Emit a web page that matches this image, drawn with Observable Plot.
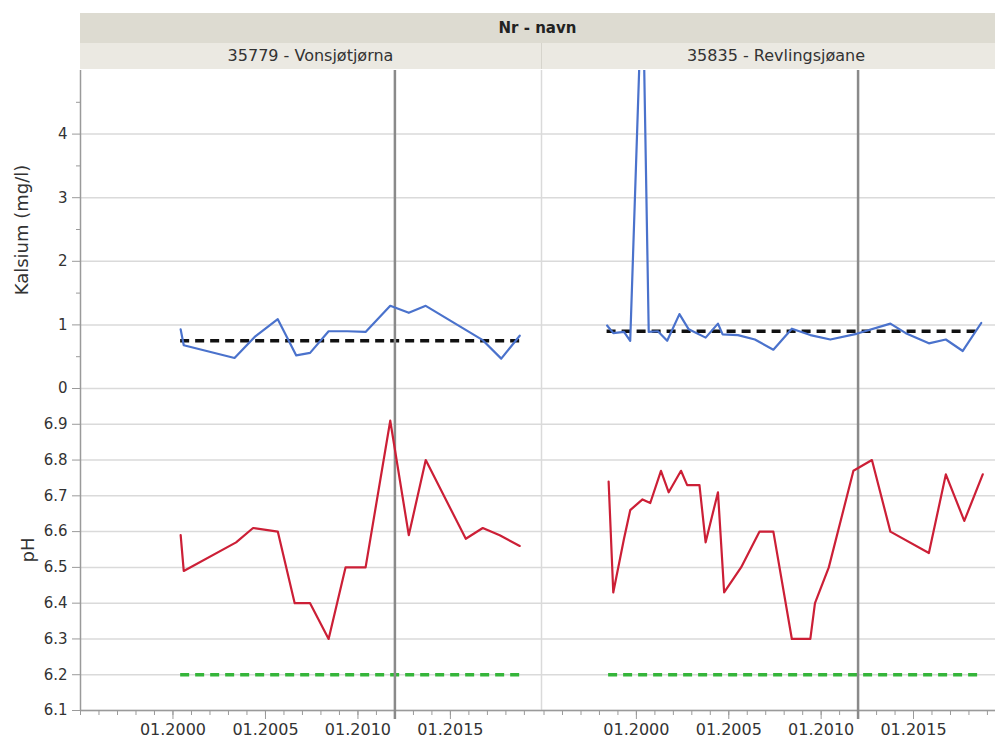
<!DOCTYPE html>
<html>
<head>
<meta charset="utf-8">
<script src="https://cdn.jsdelivr.net/npm/d3@7"></script>
<script src="https://cdn.jsdelivr.net/npm/@observablehq/plot@0.6"></script>
<style>
  html, body { margin: 0; padding: 0; background: #fff; }
  body { width: 995px; height: 740px; overflow: hidden; position: relative; font-family: "DejaVu Sans", sans-serif; color: #333; }
  .abs { position: absolute; }
  #band1 { left: 80px; top: 13px; width: 915px; height: 30px; background: #dddbd1; font-weight: bold; font-size: 15px; line-height: 30px; text-align: center; color: #222; }
  #band2 { left: 80px; top: 43px; width: 915px; height: 26px; background: #ebe9e2; }
  .cell { position: absolute; top: 0; height: 26px; line-height: 26px; font-size: 16px; text-align: center; color: #333; }
  .ylab { font-size: 18px; color: #333; transform: rotate(-90deg); transform-origin: center center; white-space: nowrap; text-align: center; }
  svg { overflow: visible; }
</style>
</head>
<body>
<div id="band1" class="abs">Nr - navn</div>
<div id="band2" class="abs">
  <div class="cell" style="left:0;width:461px;">35779 - Vonsjøtjørna</div>
  <div class="cell" style="left:461px;width:468px;border-left:1.5px solid #d6d4cc;">35835 - Revlingsjøane</div>
</div>
<div class="abs ylab" style="left:-58px;top:218px;width:160px;height:24px;line-height:24px;">Kalsium (mg/l)</div>
<div class="abs ylab" style="left:8px;top:538px;width:40px;height:24px;line-height:24px;">pH</div>
<div id="tl" class="abs" style="left:0;top:70px;"></div>
<div id="tr" class="abs" style="left:541px;top:70px;"></div>
<div id="bl" class="abs" style="left:0;top:388px;"></div>
<div id="br" class="abs" style="left:541px;top:388px;"></div>
<script>
// ---------- data ----------
const stations = ["35779 - Vonsjøtjørna", "35835 - Revlingsjøane"];

// Station 35779 - Vonsjøtjørna
const caDatesA = ["2000-06","2000-08","2003-05","2004-06","2005-09","2006-09","2007-06","2008-06","2009-06","2010-06","2011-10","2012-10","2013-09","2016-10","2017-10","2018-10"];
const caValuesA = [0.93,0.68,0.48,0.81,1.09,0.52,0.56,0.90,0.90,0.89,1.30,1.19,1.30,0.76,0.47,0.83];
const phDatesA = ["2000-06","2000-08","2003-06","2004-05","2005-09","2006-08","2007-06","2008-06","2009-05","2010-06","2011-10","2012-10","2013-09","2015-11","2016-10","2017-09","2018-10"];
const phValuesA = [6.59,6.49,6.57,6.61,6.60,6.40,6.40,6.30,6.50,6.50,6.91,6.59,6.80,6.58,6.61,6.59,6.56];

// Station 35835 - Revlingsjøane
const caDatesB = ["1998-06","1998-10","1999-05","1999-09","2000-05","2000-09","2001-03","2001-09","2002-05","2002-11","2003-10","2004-06","2004-09","2005-07","2006-06","2007-06","2008-06","2009-06","2010-07","2011-12","2013-10","2014-08","2015-11","2016-10","2017-09","2018-09"];
const caValuesB = [0.99,0.87,0.89,0.75,6.6,0.89,0.90,0.75,1.17,0.93,0.80,1.02,0.85,0.84,0.77,0.61,0.94,0.84,0.77,0.86,1.02,0.87,0.71,0.77,0.59,1.03];
const phDatesB = ["1998-07","1998-10","1999-05","1999-09","2000-05","2000-10","2001-05","2001-10","2002-06","2002-10","2003-06","2003-10","2004-06","2004-10","2005-09","2006-09","2007-06","2008-06","2009-06","2009-09","2010-06","2011-10","2012-10","2013-10","2015-11","2016-10","2017-10","2018-10"];
const phValuesB = [6.74,6.43,6.58,6.66,6.69,6.68,6.77,6.71,6.77,6.73,6.73,6.57,6.71,6.43,6.50,6.60,6.60,6.30,6.30,6.40,6.50,6.77,6.80,6.60,6.54,6.76,6.63,6.76];

// reference levels
const caLimits = [0.75, 0.90];
const phLimit = 6.2;
const markerDate = "2012-01";

// axis ticks
const caTicks = [0, 1, 2, 3, 4];
const caMinorTicks = [0.5, 1.5, 2.5, 3.5, 4.5];
const phTicks = [6.1, 6.2, 6.3, 6.4, 6.5, 6.6, 6.7, 6.8, 6.9];
const xLabelYears = [2000, 2005, 2010, 2015];

// ---------- build ----------
const parse = d3.utcParse("%Y-%m");
const parseD = d3.utcParse("%Y-%m-%d");
const toRows = (dates, values) => dates.map((d, i) => ({date: parse(d), value: values[i]}));

const domains = [
  [parseD("1995-01-01"), parseD("2019-12-05")],
  [parseD("1994-11-12"), parseD("2019-06-10")]
];

const blue = "#4a72cc", red = "#cc1f36", green = "#35b53a";
const grid = "#dadada", axisCol = "#9a9a9a";
const fmt = d3.utcFormat("%m.%Y");

function panel({el, width, left, domain, yDomain, height, bottom, rows, lineColor, limit, limitColor, rowsDates, ticks, minor, isBottom, clip}) {
  const first = rowsDates[0], last = rowsDates[rowsDates.length - 1];
  const yearTicks = d3.utcYear.range(domain[0], domain[1]);
  const fiveTicks = xLabelYears.map(y => new Date(Date.UTC(y, 0, 1)));
  const marks = [
    Plot.gridY(ticks, {stroke: grid, strokeOpacity: 1, strokeWidth: 1.5}),
    Plot.ruleX([domain[0]], {stroke: left ? axisCol : grid, strokeWidth: 1.5}),
  ];
  if (left) {
    marks.push(Plot.axisY(ticks, {tickSize: 8, tickPadding: 5, stroke: axisCol, fill: "#333", fontSize: 15, label: null, tickFormat: d => String(d)}));
    if (minor) marks.push(Plot.axisY(minor, {tickSize: 4, stroke: axisCol, tickFormat: () => "", label: null}));
  }
  if (isBottom) {
    marks.push(Plot.ruleY([yDomain[0]], {stroke: axisCol, strokeWidth: 1.5}));
    marks.push(Plot.axisX(yearTicks, {tickSize: 5, stroke: axisCol, tickFormat: () => "", label: null}));
    marks.push(Plot.axisX(fiveTicks, {tickSize: 9, tickPadding: 4, stroke: axisCol, fill: "#333", fontSize: 16, tickFormat: fmt, label: null}));
  }
  marks.push(Plot.ruleY([{y: limit, x1: first, x2: last}], {y: "y", x1: "x1", x2: "x2", stroke: limitColor, strokeWidth: 3.5, strokeDasharray: "9,6"}));
  marks.push(Plot.ruleX([parse(markerDate)], {stroke: "#8a8a8a", strokeWidth: 2.5, insetBottom: isBottom ? -9 : 0}));
  marks.push(Plot.line(rows, {x: "date", y: "value", stroke: lineColor, strokeWidth: 2.2, clip: clip}));
  const chart = Plot.plot({
    width, height,
    marginLeft: left ? 80 : 0, marginRight: 0, marginTop: 0, marginBottom: bottom,
    style: {fontFamily: "DejaVu Sans", fontSize: "15px", color: "#333", background: "transparent", overflow: "visible"},
    x: {type: "utc", domain, axis: null},
    y: {domain: yDomain, axis: null},
    marks
  });
  document.getElementById(el).appendChild(chart);
}

const rowsCaA = toRows(caDatesA, caValuesA), rowsCaB = toRows(caDatesB, caValuesB);
const rowsPhA = toRows(phDatesA, phValuesA), rowsPhB = toRows(phDatesB, phValuesB);

panel({el: "tl", width: 541, left: true, domain: domains[0], yDomain: [0, 5], height: 318, bottom: 0,
  rows: rowsCaA, lineColor: blue, limit: caLimits[0], limitColor: "#111", rowsDates: rowsCaA.map(d => d.date), ticks: caTicks, minor: caMinorTicks, isBottom: false, clip: true});
panel({el: "tr", width: 454, left: false, domain: domains[1], yDomain: [0, 5], height: 318, bottom: 0,
  rows: rowsCaB, lineColor: blue, limit: caLimits[1], limitColor: "#111", rowsDates: rowsCaB.map(d => d.date), ticks: caTicks, minor: null, isBottom: false, clip: true});
panel({el: "bl", width: 541, left: true, domain: domains[0], yDomain: [6.1, 7.0], height: 352, bottom: 30,
  rows: rowsPhA, lineColor: red, limit: phLimit, limitColor: green, rowsDates: rowsPhA.map(d => d.date), ticks: phTicks, minor: null, isBottom: true, clip: true});
panel({el: "br", width: 454, left: false, domain: domains[1], yDomain: [6.1, 7.0], height: 352, bottom: 30,
  rows: rowsPhB, lineColor: red, limit: phLimit, limitColor: green, rowsDates: rowsPhB.map(d => d.date), ticks: phTicks, minor: null, isBottom: true, clip: true});
</script>
</body>
</html>
